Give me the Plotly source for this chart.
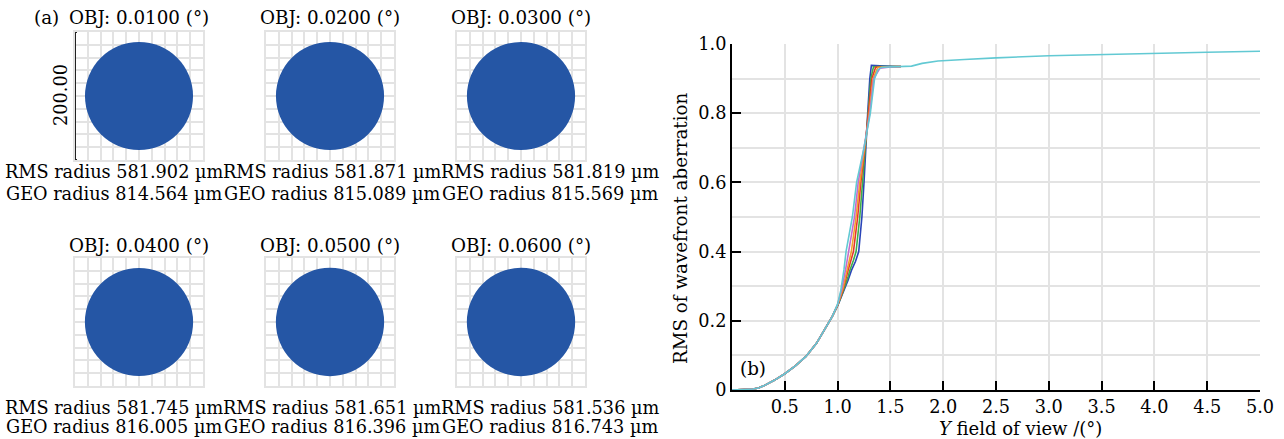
import plotly.graph_objects as go

W, H = 1284, 439


def px(x):
    return x / W


def py(y):
    return 1 - y / H


# ---------------- data: panel (a) spot diagrams ----------------
obj_fields = ["0.0100", "0.0200", "0.0300", "0.0400", "0.0500", "0.0600"]
rms_radius = [581.902, 581.871, 581.819, 581.745, 581.651, 581.536]
geo_radius = [814.564, 815.089, 815.569, 816.005, 816.396, 816.743]
scale_bar_label = "200.00"

# ---------------- data: panel (b) RMS wavefront curves ----------------
low_x = [0, 0.1, 0.2, 0.25, 0.3, 0.4, 0.5, 0.6, 0.7, 0.8, 0.9, 0.95]
low_y = [0, 0.001, 0.003, 0.006, 0.012, 0.028, 0.047, 0.070, 0.097, 0.135, 0.185, 0.213]

blue_x = [1.0, 1.05, 1.10, 1.13, 1.17, 1.20, 1.23, 1.25, 1.265, 1.285, 1.305, 1.32, 1.40, 1.60]
blue_y = [0.243, 0.280, 0.318, 0.345, 0.372, 0.40, 0.50, 0.60, 0.70, 0.80, 0.90, 0.938, 0.937, 0.935]

green_x = [1.0, 1.05, 1.10, 1.115, 1.15, 1.175, 1.21, 1.235, 1.262, 1.29, 1.315, 1.34, 1.40, 1.60]
green_y = [0.244, 0.283, 0.328, 0.345, 0.375, 0.40, 0.50, 0.60, 0.70, 0.80, 0.90, 0.934, 0.935, 0.935]

red_x = [1.0, 1.05, 1.10, 1.15, 1.19, 1.22, 1.258, 1.295, 1.325, 1.36, 1.45, 1.60]
red_y = [0.245, 0.288, 0.347, 0.40, 0.50, 0.60, 0.70, 0.80, 0.90, 0.933, 0.934, 0.935]

orange_x = [1.0, 1.05, 1.09, 1.13, 1.175, 1.21, 1.255, 1.30, 1.335, 1.38, 1.45, 1.60]
orange_y = [0.246, 0.293, 0.347, 0.40, 0.50, 0.60, 0.70, 0.80, 0.90, 0.932, 0.934, 0.935]

purple_x = [1.0, 1.04, 1.075, 1.105, 1.16, 1.195, 1.252, 1.305, 1.342, 1.40, 1.48, 1.60]
purple_y = [0.247, 0.292, 0.347, 0.40, 0.50, 0.60, 0.70, 0.80, 0.90, 0.930, 0.933, 0.935]

cyan_x = [1.0, 1.03, 1.06, 1.08, 1.14, 1.18, 1.25, 1.31, 1.35, 1.38, 1.42, 1.50, 1.70,
          1.80, 1.95, 2.20, 2.50, 3.00, 3.50, 4.00, 4.50, 5.00]
cyan_y = [0.248, 0.287, 0.347, 0.40, 0.50, 0.60, 0.70, 0.80, 0.90, 0.925, 0.933, 0.934, 0.936,
          0.944, 0.951, 0.955, 0.960, 0.966, 0.970, 0.973, 0.976, 0.979]

series = [
    ("blue", blue_x, blue_y, "#2a45b8"),
    ("green", green_x, green_y, "#3fae49"),
    ("red", red_x, red_y, "#e5352b"),
    ("orange", orange_x, orange_y, "#f2a12a"),
    ("purple", purple_x, purple_y, "#c46ccc"),
    ("cyan", cyan_x, cyan_y, "#62c9d3"),
]

y_ticks = [0, 0.2, 0.4, 0.6, 0.8, 1.0]
y_tick_text = ["0", "0.2", "0.4", "0.6", "0.8", "1.0"]
x_ticks = [0.5, 1.0, 1.5, 2.0, 2.5, 3.0, 3.5, 4.0, 4.5, 5.0]
x_tick_text = ["0.5", "1.0", "1.5", "2.0", "2.5", "3.0", "3.5", "4.0", "4.5", "5.0"]

FONT = "DejaVu Serif"
FS = 17.7
GRID = "#e3e3e3"
SPOT = "#2556a5"

fig = go.Figure()

# ---------------- panel (b) ----------------
for name, xs, ys, col in series:
    fig.add_trace(go.Scatter(
        x=low_x + xs, y=low_y + ys, mode="lines", name=name,
        line=dict(color=col, width=1.6), showlegend=False,
        xaxis="x", yaxis="y"))

layout = dict(
    width=W, height=H,
    margin=dict(l=0, r=0, t=0, b=0, pad=0),
    paper_bgcolor="white", plot_bgcolor="white",
    font=dict(family=FONT, size=FS, color="black"),
    showlegend=False,
    xaxis=dict(
        domain=[px(732), px(1260)], range=[0, 5], anchor="y", automargin=False,
        tickvals=x_ticks, ticktext=x_tick_text,
        ticks="inside", ticklen=9, tickwidth=2, tickcolor="black",
        showline=True, linecolor="black", linewidth=2,
        showgrid=True, gridcolor=GRID, gridwidth=2, zeroline=False,
        tickfont=dict(family=FONT, size=FS),
    ),
    yaxis=dict(
        domain=[py(390), py(44)], range=[0, 1.0], anchor="x", automargin=False,
        tickvals=y_ticks, ticktext=y_tick_text,
        ticks="inside", ticklen=9, tickwidth=2, tickcolor="black",
        showline=True, linecolor="black", linewidth=2,
        showgrid=True, gridcolor=GRID, gridwidth=2, zeroline=False,
        minor=dict(dtick=0.1, showgrid=True, gridcolor=GRID, gridwidth=2, ticks=""),
        tickfont=dict(family=FONT, size=FS),
    ),
)

# ---------------- panel (a) ----------------
HALF = 965.0
col_left = [75, 266, 457]
row_top = [32, 258]
BOX = 128
text_cx = [114, 332, 550]
title_y = [18, 245]
rms_y = [172, 408]
geo_y = [194, 427]

shapes = []
annotations = []
for i in range(6):
    r, c = divmod(i, 3)
    k = i + 2
    xa, ya = f"x{k}", f"y{k}"
    l = col_left[c]
    t = row_top[r]
    ax_common = dict(
        range=[-HALF, HALF], tick0=-HALF, dtick=HALF / 5,
        showgrid=True, gridcolor=GRID, gridwidth=2,
        showticklabels=False, ticks="", zeroline=False,
        showline=True, mirror=True, linecolor=GRID, linewidth=2,
        fixedrange=True, automargin=False,
    )
    layout[f"xaxis{k}"] = dict(domain=[px(l), px(l + BOX)], anchor=ya, **ax_common)
    layout[f"yaxis{k}"] = dict(domain=[py(t + BOX), py(t)], anchor=xa, **ax_common)
    fig.add_trace(go.Scatter(x=[0], y=[0], mode="markers",
                             marker=dict(opacity=0), hoverinfo="skip",
                             xaxis=xa, yaxis=ya, showlegend=False))
    g = geo_radius[i]
    shapes.append(dict(type="circle", xref=xa, yref=ya,
                       x0=-g, x1=g, y0=-g, y1=g,
                       fillcolor=SPOT, line=dict(width=0), layer="above"))
    annotations.append(dict(
        text=f"OBJ: {obj_fields[i]} (°)", xref="paper", yref="paper",
        x=px(l + BOX / 2), y=py(title_y[r]), xanchor="center", yanchor="middle",
        showarrow=False, font=dict(family=FONT, size=18.3)))
    annotations.append(dict(
        text=f"RMS radius {rms_radius[i]:.3f} µm", xref="paper", yref="paper",
        x=px(text_cx[c]), y=py(rms_y[r]), xanchor="center", yanchor="middle",
        showarrow=False, borderpad=0, font=dict(family=FONT, size=FS)))
    annotations.append(dict(
        text=f"GEO radius {geo_radius[i]:.3f} µm", xref="paper", yref="paper",
        x=px(text_cx[c]), y=py(geo_y[r]), xanchor="center", yanchor="middle",
        showarrow=False, borderpad=0, font=dict(family=FONT, size=FS)))

# scale bar on first spot diagram
shapes.append(dict(type="line", xref="x2", yref="y2", x0=-HALF, x1=-HALF,
                   y0=-HALF, y1=HALF, line=dict(color="#222222", width=2), layer="above"))
for yy in (-HALF, HALF):
    shapes.append(dict(type="line", xref="x2", yref="y2", x0=-HALF - 20, x1=-HALF + 30,
                       y0=yy, y1=yy, line=dict(color="#222222", width=2), layer="above"))
annotations.append(dict(text=scale_bar_label, xref="paper", yref="paper",
                        x=px(61), y=py(95), textangle=-90, xanchor="center",
                        yanchor="middle", showarrow=False,
                        font=dict(family=FONT, size=FS)))
annotations.append(dict(text="(a)", xref="paper", yref="paper", x=px(47), y=py(18),
                        xanchor="center", yanchor="middle", showarrow=False,
                        font=dict(family=FONT, size=18.3)))
annotations.append(dict(text="(b)", xref="paper", yref="paper", x=px(753), y=py(368),
                        xanchor="center", yanchor="middle", showarrow=False,
                        font=dict(family=FONT, size=18.3)))
# axis titles of panel (b)
annotations.append(dict(text="<i>Y</i> field of view /(°)", xref="paper", yref="paper",
                        x=px(1020), y=py(428), xanchor="center", yanchor="middle",
                        showarrow=False, borderpad=0, font=dict(family=FONT, size=18)))
annotations.append(dict(text="RMS of wavefront aberration", xref="paper", yref="paper",
                        x=px(680), y=py(228), textangle=-90, xanchor="center",
                        yanchor="middle", showarrow=False,
                        font=dict(family=FONT, size=18.3)))

layout["shapes"] = shapes
layout["annotations"] = annotations
fig.update_layout(**layout)
fig.write_html("out.html")
